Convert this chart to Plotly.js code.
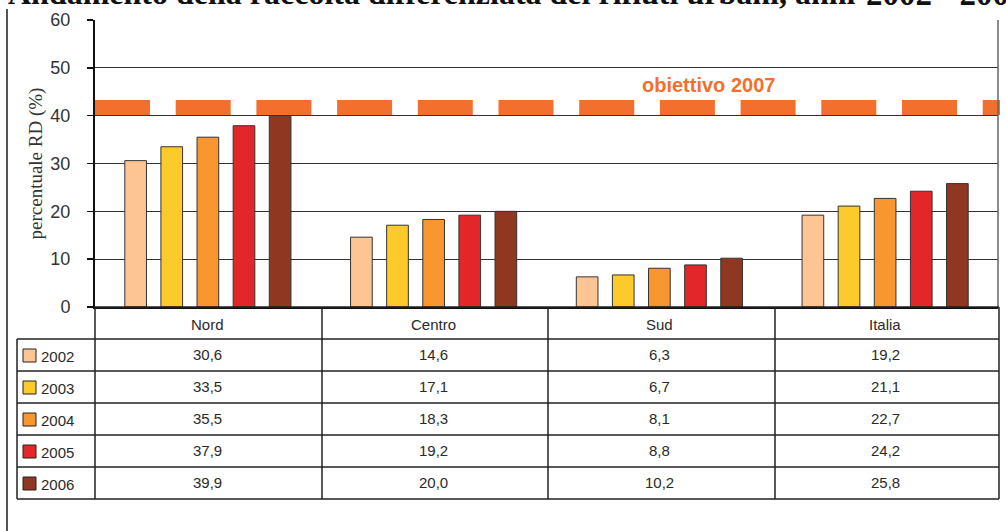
<!DOCTYPE html>
<html>
<head>
<meta charset="utf-8">
<script src="https://cdn.plot.ly/plotly-3.0.1.min.js"></script>
<style>html,body{margin:0;padding:0;background:#fff;}#chart{width:1006px;height:531px;}</style>
</head>
<body>
<div id="chart"></div>
<script>
// ---- data ----
const categories = ['Nord', 'Centro', 'Sud', 'Italia'];
const years = ['2002', '2003', '2004', '2005', '2006'];
const v2002 = [30.6, 14.6, 6.3, 19.2];
const v2003 = [33.5, 17.1, 6.7, 21.1];
const v2004 = [35.5, 18.3, 8.1, 22.7];
const v2005 = [37.9, 19.2, 8.8, 24.2];
const v2006 = [39.9, 20.0, 10.2, 25.8];
const yearColors = ['#FDC594', '#FCCB2B', '#F8962F', '#E3262A', '#8F3720'];
const targetValue = 41.7;
const targetLabel = 'obiettivo 2007';
const titleMain = 'Andamento della raccolta differenziata dei rifiuti urbani, anni';
const titleYears = '2002 - 2006';
const yTitle = 'percentuale RD (%)';

const series = [v2002, v2003, v2004, v2005, v2006];

// ---- geometry helpers (pixel -> paper) ----
const W = 1006, H = 531;
const M = {l: 95, r: 8, t: 20, b: 224};
const PW = W - M.l - M.r, PH = H - M.t - M.b;
const xp = px => (px - M.l) / PW;
const yp = py => (H - M.b - py) / PH;

const traces = series.map((vals, i) => ({
  type: 'bar',
  name: years[i],
  x: categories,
  y: vals,
  marker: {color: yearColors[i], line: {color: '#333333', width: 1}},
  showlegend: false,
  hoverinfo: 'x+y+name'
}));

const fmt = v => v.toFixed(1).replace('.', ',');
const lineStyle = {color: '#222222', width: 1.5};
const shapes = [];
const annotations = [];
const sans = 'Liberation Sans, Arial, sans-serif';
const serif = 'Liberation Serif, Times New Roman, serif';

// target dashed band
shapes.push({type: 'line', xref: 'paper', x0: 0, x1: xp(1000), yref: 'y', y0: targetValue, y1: targetValue,
  line: {color: '#F26F2D', width: 15, dash: '55px,25.7px'}, layer: 'above'});
annotations.push({xref: 'paper', x: xp(708), yref: 'y', y: 46.5, text: '<b>' + targetLabel + '</b>', showarrow: false,
  font: {family: sans, size: 20, color: '#F26F2D'}, xanchor: 'center', yanchor: 'middle'});

// right border of plot
shapes.push({type: 'line', xref: 'paper', yref: 'paper', x0: xp(998), x1: xp(998), y0: 0, y1: 1, line: {color: '#666666', width: 1.5}});
// page left border
shapes.push({type: 'line', xref: 'paper', yref: 'paper', x0: xp(7), x1: xp(7), y0: yp(9), y1: yp(531), line: {color: '#555555', width: 2}});

// table grid
const rowTop = 307, headerBottom = 339, rowH = 32;
const tableRight = 999, legendLeft = 17;
shapes.push({type: 'line', xref: 'paper', yref: 'paper', x0: 0, x1: xp(tableRight), y0: yp(rowTop), y1: yp(rowTop), line: lineStyle});
for (let r = 0; r <= years.length; r++) {
  const py = headerBottom + r * rowH;
  shapes.push({type: 'line', xref: 'paper', yref: 'paper', x0: xp(legendLeft), x1: xp(tableRight), y0: yp(py), y1: yp(py), line: lineStyle});
}
const tableBottom = headerBottom + years.length * rowH;
[95, 322, 548, 775, tableRight].forEach(px => {
  shapes.push({type: 'line', xref: 'paper', yref: 'paper', x0: xp(px), x1: xp(px), y0: yp(rowTop), y1: yp(tableBottom), line: lineStyle});
});
shapes.push({type: 'line', xref: 'paper', yref: 'paper', x0: xp(legendLeft), x1: xp(legendLeft), y0: yp(headerBottom), y1: yp(tableBottom), line: lineStyle});

const tFont = {family: sans, size: 15, color: '#2a2a2a'};
// header
categories.forEach(c => {
  annotations.push({xref: 'x', x: c, yref: 'paper', y: yp((rowTop + headerBottom) / 2 + 1), text: c, showarrow: false, font: tFont, xanchor: 'center', yanchor: 'middle'});
});
// rows
years.forEach((yr, r) => {
  const cy = headerBottom + r * rowH + rowH / 2;
  shapes.push({type: 'rect', xref: 'paper', yref: 'paper', x0: xp(23), x1: xp(36), y0: yp(cy - 6), y1: yp(cy + 7),
    fillcolor: yearColors[r], line: {color: '#222222', width: 1}});
  annotations.push({xref: 'paper', x: xp(38.5), yref: 'paper', y: yp(cy + 1), text: yr, showarrow: false, font: tFont, xanchor: 'left', yanchor: 'middle'});
  series[r].forEach((v, c) => {
    annotations.push({xref: 'x', x: categories[c], yref: 'paper', y: yp(cy - 1), text: fmt(v), showarrow: false, font: tFont, xanchor: 'center', yanchor: 'middle'});
  });
});

// y axis title
annotations.push({xref: 'paper', x: xp(35), yref: 'paper', y: 0.5, text: yTitle, textangle: -90, showarrow: false,
  font: {family: serif, size: 19, color: '#333333'}, xanchor: 'center', yanchor: 'middle'});
// cut-off page title (the reference is cropped at the top edge)
annotations.push({xref: 'paper', x: xp(6), yref: 'paper', y: yp(13.5), text: '<b>' + titleMain + '</b>', showarrow: false,
  font: {family: serif, size: 32, color: '#111111'}, xanchor: 'left', yanchor: 'bottom'});
annotations.push({xref: 'paper', x: xp(864), yref: 'paper', y: yp(14), text: '<b>' + titleYears + '</b>', showarrow: false,
  font: {family: serif, size: 33, color: '#111111'}, xanchor: 'left', yanchor: 'bottom'});

const layout = {
  width: W, height: H,
  margin: M,
  paper_bgcolor: '#ffffff', plot_bgcolor: '#ffffff',
  barmode: 'group', bargap: 0.2, bargroupgap: 0.4,
  xaxis: {type: 'category', showticklabels: false, ticks: '', showgrid: false, zeroline: false,
    showline: true, linecolor: '#111111', linewidth: 2, fixedrange: true},
  yaxis: {range: [0, 60], dtick: 10, tick0: 0, showgrid: true, gridcolor: '#333333', gridwidth: 1,
    zeroline: false, showline: true, linecolor: '#111111', linewidth: 2,
    ticks: 'outside', ticklen: 6, tickcolor: '#111111', tickwidth: 1.5, ticklabelstandoff: 13,
    tickfont: {family: sans, size: 18, color: '#333333'}, fixedrange: true},
  shapes: shapes,
  annotations: annotations,
  showlegend: false
};

Plotly.newPlot('chart', traces, layout, {displayModeBar: false, staticPlot: true});
</script>
</body>
</html>
